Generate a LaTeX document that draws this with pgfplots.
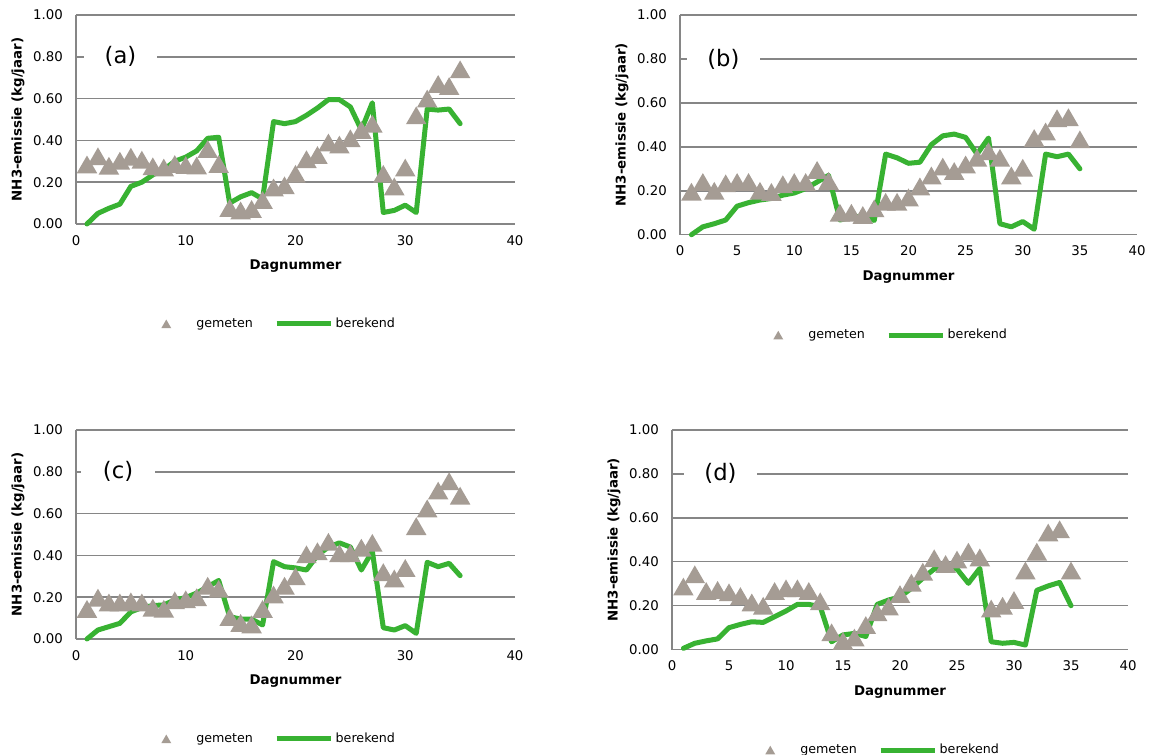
\documentclass[border=0pt]{standalone}
\usepackage{pgfplots}
\pgfplotsset{compat=1.18}
\usepackage{fontspec}
\setmainfont{DejaVu Sans}

\definecolor{gridgray}{RGB}{134,134,134}
\definecolor{markgray}{RGB}{165,156,148}
\definecolor{lgreen}{RGB}{56,178,50}

% filled triangle centred on its bounding box
\pgfdeclareplotmark{xltri}{%
  \pgfpathmoveto{\pgfqpoint{0pt}{0.866\pgfplotmarksize}}%
  \pgfpathlineto{\pgfqpoint{-\pgfplotmarksize}{-0.866\pgfplotmarksize}}%
  \pgfpathlineto{\pgfqpoint{\pgfplotmarksize}{-0.866\pgfplotmarksize}}%
  \pgfpathclose
  \pgfusepathqfill
}

\pgfplotsset{
  panel/.style={
    scale only axis,
    anchor=south west,
    xmin=0, xmax=40, ymin=0, ymax=1,
    ytick={0,0.2,0.4,0.6,0.8,1},
    yticklabels={0.00,0.20,0.40,0.60,0.80,1.00},
    axis lines*=left,
    axis line style={draw=gridgray, line width=1.1pt, -},
    ymajorgrids,
    major grid style={draw=gridgray, line width=1.1pt},
    major tick length=0pt,
    tick style={draw=none},
    tick label style={font=\fontsize{10}{12}\selectfont, text=black},
    yticklabel style={xshift=-6.4pt},
    xticklabel style={yshift=-5pt},
    xlabel={Dagnummer},
    ylabel={NH3-emissie (kg/jaar)},
    every axis x label/.style={at={(axis description cs:0.5,0)}, anchor=center,
      yshift=-31.5pt, font=\bfseries\fontsize{10}{12}\selectfont},
    every axis y label/.style={at={(axis description cs:0,0.5)}, xshift=-43.5pt,
      rotate=90, anchor=center, font=\bfseries\fontsize{10}{12}\selectfont},
    clip=false,
    legend columns=2,
    legend cell align=left,
    legend style={draw=none, fill=none, inner sep=0pt, anchor=west,
      font=\fontsize{9.5}{11}\selectfont,
      /tikz/every even column/.append style={column sep=13.75pt}},
  },
  gemstyle/.style={only marks, mark=xltri, mark size=7.7pt, color=markgray},
  berstyle/.style={no markers, color=lgreen, line width=3.75pt, line join=round, line cap=round},
  gemleg/.style={legend image code/.code={%
      \path[draw=none, fill=none] (-12pt,-4pt) rectangle (20.5pt,4pt);
      \draw[markgray, only marks, mark=xltri, mark size=3.75pt] plot coordinates {(0pt,0pt)};}},
  berleg/.style={legend image code/.code={%
      \path[draw=none, fill=none] (0pt,-4pt) rectangle (40.5pt,4pt);
      \draw[lgreen, line width=3.75pt] (0pt,0pt) -- (40.5pt,0pt);}},
}
\tikzset{panellabel/.style={fill=white, inner ysep=1pt, minimum width=55pt,
  font=\fontsize{17}{20}\selectfont}}

\begin{document}
\begin{tikzpicture}
\path[use as bounding box, fill=white] (0pt,0pt) rectangle (864.75pt,566.25pt);

% (a)
\begin{axis}[panel, at={(57pt,398.25pt)}, width=329.25pt, height=156.75pt,
  xtick={0,10,20,30,40}, xticklabels={0,10,20,30,40},
  legend style={at={(0.1686,-0.478)}}]
\addlegendimage{gemleg}\addlegendentry{gemeten}
\addlegendimage{berleg}\addlegendentry{berekend}
\addplot[forget plot, berstyle] coordinates {
(1,0.000) (2,0.051) (3,0.075) (4,0.095) (5,0.180) (6,0.200) (7,0.235) (8,0.260)
(9,0.300) (10,0.320) (11,0.350) (12,0.410) (13,0.415) (14,0.100) (15,0.130)
(16,0.150) (17,0.120) (18,0.490) (19,0.480) (20,0.490) (21,0.520) (22,0.555)
(23,0.595) (24,0.595) (25,0.560) (26,0.450) (27,0.580) (28,0.055) (29,0.065)
(30,0.090) (31,0.055) (32,0.550) (33,0.545) (34,0.550) (35,0.480)};
\addplot[forget plot, gemstyle] coordinates {
(1,0.285) (2,0.324) (3,0.279) (4,0.303) (5,0.322) (6,0.308) (7,0.276) (8,0.270)
(9,0.287) (10,0.282) (11,0.280) (12,0.359) (13,0.287) (14,0.077) (15,0.065)
(16,0.072) (17,0.115) (18,0.175) (19,0.185) (20,0.240) (21,0.310) (22,0.330)
(23,0.390) (24,0.380) (25,0.410) (26,0.450) (27,0.480) (28,0.240) (29,0.180)
(30,0.270) (31,0.520) (32,0.600) (33,0.670) (34,0.660) (35,0.740)};
\node[panellabel] at (axis cs:4.05,0.8) {(a)};
\end{axis}

% (b)
\begin{axis}[panel, at={(510pt,390.2pt)}, width=342.75pt, height=164.8pt,
  xtick={0,5,10,15,20,25,30,35,40}, xticklabels={0,5,10,15,20,25,30,35,40},
  legend style={at={(0.1794,-0.457)}}]
\addlegendimage{gemleg}\addlegendentry{gemeten}
\addlegendimage{berleg}\addlegendentry{berekend}
\addplot[forget plot, berstyle] coordinates {
(1,0.000) (2,0.036) (3,0.050) (4,0.067) (5,0.130) (6,0.146) (7,0.158) (8,0.165)
(9,0.180) (10,0.190) (11,0.210) (12,0.240) (13,0.270) (14,0.067) (15,0.080)
(16,0.085) (17,0.065) (18,0.367) (19,0.350) (20,0.325) (21,0.330) (22,0.410)
(23,0.450) (24,0.458) (25,0.443) (26,0.367) (27,0.440) (28,0.050) (29,0.036)
(30,0.060) (31,0.025) (32,0.367) (33,0.355) (34,0.367) (35,0.300)};
\addplot[forget plot, gemstyle] coordinates {
(1,0.196) (2,0.240) (3,0.200) (4,0.234) (5,0.240) (6,0.240) (7,0.200) (8,0.195)
(9,0.230) (10,0.240) (11,0.240) (12,0.295) (13,0.245) (14,0.100) (15,0.100)
(16,0.090) (17,0.120) (18,0.150) (19,0.150) (20,0.170) (21,0.220) (22,0.270)
(23,0.310) (24,0.290) (25,0.320) (26,0.350) (27,0.380) (28,0.350) (29,0.270)
(30,0.305) (31,0.440) (32,0.470) (33,0.530) (34,0.535) (35,0.434)};
\node[panellabel] at (axis cs:3.8,0.8) {(b)};
\end{axis}

% (c)
\begin{axis}[panel, at={(57pt,87pt)}, width=329.25pt, height=156.75pt,
  xtick={0,10,20,30,40}, xticklabels={0,10,20,30,40},
  legend style={at={(0.1686,-0.478)}}]
\addlegendimage{gemleg}\addlegendentry{gemeten}
\addlegendimage{berleg}\addlegendentry{berekend}
\addplot[forget plot, berstyle] coordinates {
(1,0.000) (2,0.043) (3,0.059) (4,0.075) (5,0.130) (6,0.150) (7,0.160) (8,0.163)
(9,0.187) (10,0.198) (11,0.220) (12,0.250) (13,0.280) (14,0.107) (15,0.095)
(16,0.095) (17,0.067) (18,0.370) (19,0.346) (20,0.340) (21,0.330) (22,0.400)
(23,0.440) (24,0.460) (25,0.440) (26,0.330) (27,0.420) (28,0.054) (29,0.043)
(30,0.064) (31,0.027) (32,0.367) (33,0.346) (34,0.362) (35,0.303)};
\addplot[forget plot, gemstyle] coordinates {
(1,0.144) (2,0.198) (3,0.175) (4,0.175) (5,0.180) (6,0.175) (7,0.150) (8,0.145)
(9,0.185) (10,0.190) (11,0.200) (12,0.255) (13,0.240) (14,0.105) (15,0.077)
(16,0.070) (17,0.144) (18,0.213) (19,0.255) (20,0.300) (21,0.405) (22,0.420)
(23,0.465) (24,0.410) (25,0.410) (26,0.437) (27,0.460) (28,0.320) (29,0.290)
(30,0.340) (31,0.540) (32,0.625) (33,0.710) (34,0.755) (35,0.686)};
\node[panellabel] at (axis cs:3.83,0.8) {(c)};
\end{axis}

% (d)
\begin{axis}[panel, at={(504pt,79pt)}, width=342pt, height=164.8pt,
  xtick={0,5,10,15,20,25,30,35,40}, xticklabels={0,5,10,15,20,25,30,35,40},
  legend style={at={(0.1798,-0.457)}}]
\addlegendimage{gemleg}\addlegendentry{gemeten}
\addlegendimage{berleg}\addlegendentry{berekend}
\addplot[forget plot, berstyle] coordinates {
(1,0.006) (2,0.029) (3,0.040) (4,0.049) (5,0.100) (6,0.115) (7,0.127) (8,0.124)
(9,0.150) (10,0.176) (11,0.206) (12,0.206) (13,0.196) (14,0.036) (15,0.067)
(16,0.074) (17,0.060) (18,0.206) (19,0.226) (20,0.240) (21,0.279) (22,0.325)
(23,0.367) (24,0.370) (25,0.367) (26,0.302) (27,0.370) (28,0.036) (29,0.029)
(30,0.033) (31,0.021) (32,0.270) (33,0.290) (34,0.306) (35,0.200)};
\addplot[forget plot, gemstyle] coordinates {
(1,0.287) (2,0.343) (3,0.267) (4,0.272) (5,0.261) (6,0.244) (7,0.215) (8,0.200)
(9,0.267) (10,0.279) (11,0.279) (12,0.267) (13,0.220) (14,0.079) (15,0.040)
(16,0.055) (17,0.112) (18,0.170) (19,0.196) (20,0.253) (21,0.305) (22,0.355)
(23,0.416) (24,0.390) (25,0.410) (26,0.446) (27,0.420) (28,0.187) (29,0.200)
(30,0.226) (31,0.360) (32,0.446) (33,0.533) (34,0.548) (35,0.360)};
\node[panellabel] at (axis cs:4.25,0.8) {(d)};
\end{axis}
\end{tikzpicture}
\end{document}
